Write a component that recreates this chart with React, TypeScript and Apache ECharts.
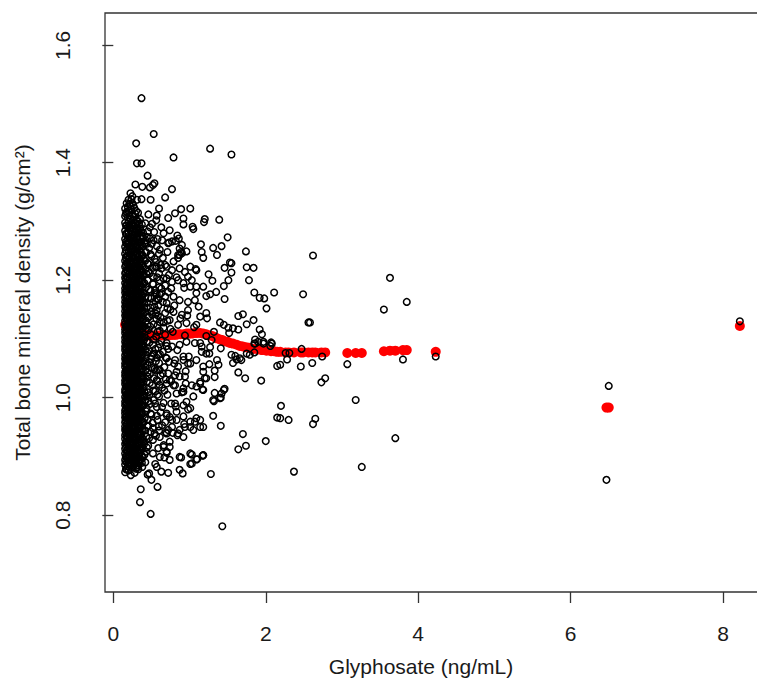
import React, { useEffect, useRef } from "react";
import * as echarts from "echarts";

const xTicks = [0, 2, 4, 6, 8];
const yTicks = [0.8, 1.0, 1.2, 1.4, 1.6];
const xTitle = "Glyphosate (ng/mL)";
const yTitle = "Total bone mineral density (g/cm²)";

// dense core: glyphosate value -> bone mineral density values
const coreColumns: [number, number[]][] = [
  [0.155, [0.873,0.886,0.894,0.905,0.913,0.921,0.93,0.936,0.945,0.951,0.958,0.966,0.973,0.978,0.987,0.993,1.001,1.009,1.014,1.023,1.029,1.037,1.043,1.052,1.058,1.066,1.072,1.081,1.087,1.095,1.102,1.11,1.116,1.125,1.131,1.14,1.147,1.155,1.163,1.17,1.179,1.186,1.195,1.204,1.212,1.223,1.233,1.245,1.257,1.27,1.284,1.298,1.309,1.322]],
  [0.165, [0.878,0.891,0.9,0.916,0.924,0.94,0.947,0.961,0.968,0.981,0.99,0.998,1.01,1.019,1.027,1.039,1.046,1.056,1.064,1.077,1.085,1.092,1.105,1.113,1.122,1.135,1.143,1.152,1.16,1.173,1.182,1.191,1.201,1.214,1.226,1.238,1.251,1.265,1.279,1.293,1.313]],
  [0.175, [0.879,0.898,0.909,0.925,0.934,0.947,0.955,0.969,0.976,0.989,0.997,1.006,1.018,1.026,1.035,1.047,1.055,1.063,1.076,1.084,1.093,1.105,1.113,1.121,1.134,1.142,1.151,1.161,1.174,1.183,1.192,1.206,1.217,1.229,1.241,1.262,1.278,1.293,1.316,1.331]],
  [0.19, [0.883,0.896,0.908,0.922,0.933,0.946,0.957,0.966,0.979,0.987,0.999,1.007,1.02,1.028,1.039,1.045,1.057,1.066,1.074,1.087,1.095,1.104,1.116,1.124,1.133,1.145,1.153,1.164,1.172,1.185,1.194,1.205,1.216,1.227,1.242,1.256,1.271,1.29,1.307,1.325]],
  [0.2, [0.876,0.889,0.903,0.917,0.928,0.941,0.949,0.962,0.971,0.983,0.994,1.003,1.013,1.021,1.032,1.041,1.05,1.061,1.069,1.079,1.09,1.099,1.108,1.119,1.128,1.137,1.146,1.158,1.167,1.178,1.188,1.199,1.21,1.221,1.236,1.25,1.264,1.281,1.3,1.318,1.337]],
  [0.213, [0.885,0.898,0.91,0.921,0.935,0.945,0.956,0.968,0.977,0.989,1.0,1.008,1.017,1.027,1.037,1.046,1.054,1.065,1.073,1.084,1.094,1.104,1.112,1.123,1.132,1.141,1.153,1.162,1.172,1.183,1.193,1.205,1.215,1.228,1.241,1.257,1.271,1.292,1.31,1.33]],
  [0.225, [0.884,0.895,0.912,0.92,0.936,0.944,0.959,0.967,0.98,0.991,0.999,1.011,1.019,1.03,1.038,1.048,1.057,1.068,1.074,1.088,1.096,1.107,1.114,1.127,1.135,1.144,1.156,1.164,1.176,1.185,1.197,1.208,1.219,1.232,1.244,1.259,1.274,1.289,1.305,1.326,1.348]],
  [0.238, [0.888,0.902,0.915,0.925,0.94,0.949,0.962,0.97,0.982,0.993,1.002,1.013,1.022,1.033,1.041,1.052,1.06,1.07,1.079,1.09,1.099,1.109,1.118,1.128,1.137,1.147,1.157,1.166,1.175,1.186,1.197,1.21,1.221,1.233,1.247,1.262,1.277,1.293,1.32,1.338]],
  [0.25, [0.881,0.893,0.907,0.919,0.931,0.939,0.953,0.964,0.974,0.985,0.995,1.007,1.016,1.027,1.036,1.045,1.056,1.064,1.073,1.085,1.094,1.103,1.112,1.123,1.131,1.142,1.152,1.16,1.171,1.181,1.193,1.203,1.215,1.226,1.239,1.253,1.267,1.284,1.296,1.312,1.331]],
  [0.263, [0.884,0.897,0.913,0.923,0.934,0.946,0.958,0.967,0.978,0.989,0.999,1.009,1.02,1.03,1.04,1.05,1.059,1.068,1.079,1.088,1.097,1.107,1.116,1.126,1.135,1.145,1.155,1.165,1.175,1.185,1.196,1.207,1.219,1.231,1.243,1.257,1.271,1.288,1.302,1.327]],
  [0.275, [0.887,0.9,0.911,0.926,0.938,0.95,0.961,0.97,0.982,0.992,1.004,1.012,1.024,1.033,1.043,1.053,1.062,1.071,1.082,1.091,1.1,1.11,1.12,1.13,1.139,1.149,1.159,1.169,1.179,1.19,1.2,1.212,1.224,1.236,1.249,1.262,1.277,1.292,1.308,1.323]],
  [0.288, [0.89,0.903,0.914,0.929,0.94,0.953,0.963,0.975,0.985,0.995,1.005,1.016,1.025,1.035,1.046,1.056,1.064,1.074,1.084,1.094,1.103,1.113,1.123,1.133,1.143,1.152,1.163,1.173,1.183,1.194,1.206,1.217,1.23,1.242,1.255,1.268,1.282,1.297,1.313]],
  [0.3, [0.879,0.892,0.904,0.918,0.929,0.943,0.956,0.965,0.977,0.988,0.997,1.008,1.019,1.028,1.039,1.049,1.059,1.067,1.077,1.087,1.097,1.106,1.117,1.126,1.136,1.146,1.155,1.166,1.176,1.187,1.198,1.209,1.22,1.233,1.246,1.258,1.272,1.287,1.303,1.318]],
  [0.313, [0.882,0.895,0.907,0.92,0.932,0.946,0.957,0.972,0.983,0.994,1.005,1.014,1.025,1.035,1.045,1.055,1.064,1.074,1.084,1.094,1.103,1.114,1.123,1.133,1.142,1.152,1.162,1.172,1.183,1.195,1.206,1.217,1.229,1.243,1.256,1.27,1.285,1.301]],
  [0.325, [0.885,0.897,0.91,0.923,0.935,0.948,0.959,0.968,0.98,0.99,1.001,1.01,1.022,1.031,1.042,1.051,1.06,1.07,1.08,1.089,1.099,1.109,1.119,1.128,1.138,1.148,1.158,1.168,1.178,1.189,1.201,1.213,1.226,1.24,1.255,1.269,1.283,1.3,1.315]],
  [0.338, [0.888,0.901,0.913,0.926,0.938,0.951,0.962,0.974,0.986,0.996,1.007,1.018,1.029,1.04,1.053,1.064,1.075,1.086,1.097,1.108,1.12,1.13,1.141,1.152,1.163,1.174,1.185,1.197,1.209,1.222,1.235,1.25,1.264,1.28,1.296]],
  [0.35, [0.892,0.906,0.915,0.929,0.942,0.954,0.966,0.979,0.991,1.003,1.015,1.025,1.037,1.048,1.058,1.069,1.081,1.092,1.103,1.114,1.125,1.134,1.145,1.157,1.168,1.18,1.191,1.203,1.216,1.229,1.243,1.258,1.273,1.288,1.304]],
  [0.362, [0.895,0.91,0.923,0.937,0.95,0.962,0.975,0.988,1.0,1.012,1.024,1.036,1.047,1.059,1.071,1.083,1.095,1.106,1.118,1.13,1.142,1.154,1.166,1.179,1.191,1.204,1.218,1.232,1.248,1.265,1.282]],
  [0.375, [0.889,0.901,0.916,0.932,0.945,0.958,0.972,0.985,0.998,1.011,1.024,1.036,1.049,1.061,1.074,1.086,1.098,1.111,1.123,1.136,1.149,1.162,1.174,1.187,1.2,1.214,1.228,1.243,1.26,1.276,1.295]],
  [0.388, [0.898,0.914,0.929,0.944,0.958,0.973,0.987,1.002,1.016,1.031,1.045,1.06,1.074,1.089,1.103,1.118,1.133,1.148,1.163,1.178,1.193,1.209,1.225,1.242,1.258,1.274]],
];

const midDense: [number, number][] = [
  [0.405,0.921],[0.432,0.934],[0.458,0.918],[0.487,0.942],[0.515,0.957],[0.541,0.939],[0.572,0.969],[0.598,0.951],
  [0.412,0.965],[0.437,0.982],[0.463,0.994],[0.491,0.973],[0.523,1.012],[0.548,0.99],[0.577,1.005],[0.604,1.022],
  [0.408,1.011],[0.451,1.043],[0.478,1.025],[0.504,1.051],[0.533,1.033],[0.559,1.062],[0.586,1.047],[0.612,1.074],
  [0.419,1.058],[0.446,1.077],[0.472,1.094],[0.499,1.071],[0.527,1.099],[0.553,1.083],[0.581,1.112],[0.607,1.091],
  [0.403,1.098],[0.429,1.118],[0.456,1.136],[0.483,1.121],[0.51,1.141],[0.538,1.155],[0.565,1.134],[0.593,1.167],
  [0.414,1.146],[0.441,1.162],[0.468,1.184],[0.495,1.169],[0.521,1.193],[0.547,1.178],[0.575,1.205],[0.602,1.188],
  [0.407,1.195],[0.435,1.211],[0.462,1.227],[0.489,1.244],[0.518,1.221],[0.544,1.236],[0.571,1.258],[0.599,1.245],
  [0.425,1.268],[0.452,1.283],[0.48,1.271],[0.508,1.296],[0.536,1.282],[0.563,1.302],[0.418,1.233],[0.505,1.262],
  [0.44,1.002],[0.47,1.06],[0.53,1.075],[0.49,1.153],[0.455,1.2],[0.585,1.14],[0.61,1.176],[0.62,1.226],
  [0.64,0.984],[0.67,1.012],[0.69,1.068],[0.66,1.119],[0.71,1.131],[0.68,1.172],[0.73,1.209],[0.66,1.203],[0.71,1.248],[0.74,1.285],
  [0.65,1.041],[0.72,1.083],[0.75,1.15],[0.64,1.268],[0.68,1.226],[0.74,1.03],[0.76,0.99],[0.69,0.941],
];

const midPoints: [number, number][] = [
  [0.41,0.903],[0.44,0.915],[0.39,0.926],[0.47,0.931],[0.42,0.944],[0.52,0.948],[0.4,0.958],[0.45,0.962],[0.5,0.971],[0.43,0.977],
  [0.39,0.986],[0.48,0.989],[0.53,0.996],[0.41,1.003],[0.46,1.009],[0.4,1.018],[0.51,1.021],[0.44,1.027],[0.39,1.034],[0.48,1.04],
  [0.42,1.046],[0.54,1.049],[0.45,1.055],[0.4,1.062],[0.5,1.066],[0.43,1.073],[0.47,1.079],[0.39,1.086],[0.52,1.09],[0.44,1.096],
  [0.41,1.103],[0.49,1.108],[0.46,1.115],[0.4,1.121],[0.53,1.125],[0.43,1.131],[0.47,1.138],[0.39,1.143],[0.5,1.147],[0.44,1.153],
  [0.41,1.16],[0.55,1.164],[0.46,1.17],[0.4,1.177],[0.49,1.182],[0.43,1.188],[0.52,1.194],[0.45,1.2],[0.39,1.207],[0.48,1.212],
  [0.42,1.219],[0.55,1.223],[0.45,1.229],[0.4,1.236],[0.5,1.241],[0.43,1.248],[0.47,1.255],[0.41,1.262],[0.53,1.268],[0.44,1.274],
  [0.39,1.281],[0.48,1.29],[0.42,1.297],[0.46,1.312],
  [0.43,0.908],[0.46,0.952],[0.42,0.995],[0.45,1.036],[0.42,1.082],[0.45,1.125],[0.42,1.171],[0.46,1.215],[0.44,1.262],[0.47,1.004],
  [0.56,0.935],[0.6,0.944],[0.64,0.953],[0.58,0.962],[0.68,0.958],[0.62,0.975],[0.57,0.984],[0.66,0.991],[0.6,1.002],[0.71,1.005],
  [0.55,1.011],[0.64,1.017],[0.58,1.028],[0.69,1.031],[0.62,1.038],[0.56,1.046],[0.67,1.052],[0.6,1.059],[0.73,1.061],[0.57,1.068],
  [0.65,1.078],[0.59,1.085],[0.7,1.088],[0.63,1.097],[0.56,1.104],[0.68,1.107],[0.61,1.114],[0.75,1.117],[0.58,1.123],[0.66,1.128],
  [0.62,1.137],[0.56,1.143],[0.71,1.152],[0.59,1.157],[0.65,1.163],[0.57,1.176],[0.63,1.186],[0.68,1.191],[0.6,1.212],[0.56,1.231],
  [0.65,1.238],[0.61,1.252],[0.58,1.27],[0.63,1.29],[0.57,1.31],[0.6,1.322],
  [0.78,0.94],[0.82,0.985],[0.76,1.028],[0.8,1.058],[0.84,1.081],[0.78,1.112],[0.88,1.135],[0.8,1.157],[0.76,1.186],[0.83,1.205],
  [0.79,1.232],[0.9,1.26],[0.94,1.106],[0.97,1.14],[0.93,1.187],[0.99,1.07],[0.95,1.045],[0.9,1.009],[0.98,0.98],[0.93,0.955],
  [0.72,1.263],[0.77,1.266],[0.87,1.254],[0.9,1.246],[0.85,1.243],[0.96,1.249],[0.57,1.223],[0.63,1.22],[0.7,1.223],[0.77,1.217],
  [0.87,1.22],[0.94,1.214],[1.01,1.223],[1.09,1.217],[0.52,1.206],[0.61,1.2],[0.7,1.203],[0.77,1.197],[0.85,1.2],[0.92,1.195],
  [1.01,1.189],[1.09,1.178],[1.18,1.189],[0.55,1.183],[0.63,1.178],[0.72,1.18],[0.79,1.172],[0.87,1.166],[0.98,1.163],[1.07,1.166],
  [0.57,1.169],[0.7,1.161],[0.57,1.149],[0.68,1.144],[0.79,1.146],[0.9,1.141],[0.98,1.149],[1.14,1.138],[1.22,1.144],[0.61,1.129],
  [0.74,1.132],[0.85,1.124],[0.96,1.127],[1.09,1.124],[0.7,1.093],[0.77,1.087],[0.87,1.09],[0.96,1.095],[1.07,1.093],[1.16,1.087],
  [1.22,1.075],[0.59,1.073],[0.7,1.067],[0.81,1.064],[0.92,1.07],[1.01,1.058],[1.09,1.064],[1.18,1.053],[0.61,1.047],[0.72,1.041],
  [0.83,1.044],[0.94,1.036],[0.57,1.03],[0.7,1.024],[0.81,1.021],[0.92,1.016],[1.03,1.021],[1.14,1.024],[0.7,0.97],[0.77,0.962],
  [0.83,0.976],[0.92,0.968],[1.01,0.959],[1.09,0.965],[1.14,0.95],[1.05,0.945],[0.85,0.939],[0.94,0.95],[0.72,0.945],[0.61,0.933],
  [0.66,0.919],[0.74,0.916],[0.83,0.962],[0.74,0.967],[0.7,0.973],[0.77,0.95],[0.7,0.939],[0.87,0.945],[0.84,0.936],[0.92,0.933],
  [1.01,0.95],[1.07,0.959],[0.98,1.058],[0.92,1.064],[0.85,1.053],[0.81,1.038],[0.87,1.036],[0.95,1.024],[0.79,1.021],[0.92,1.01],
  [0.83,1.007],[0.81,0.99],[1.05,1.002],[0.96,0.993],[1.01,0.982],[0.92,0.987],[1.14,1.027],[1.2,1.033],[1.09,1.019],[1.18,1.013],
  [0.74,0.925],[0.66,0.916],[0.7,0.908],[0.59,0.914],[0.52,0.928],[0.61,0.899],[0.74,0.894],[0.25,0.895],[0.3,0.889],[0.33,0.878],
  [0.38,0.882],[0.42,0.89],[0.28,0.872],[0.55,0.887],[0.52,0.905],[0.57,0.882],[0.63,0.874],[0.72,0.872],[0.87,0.877],[0.91,0.871],
  [0.87,0.899],[1.01,0.905],[1.09,0.895],[1.18,0.902],[1.03,0.888],[0.67,0.898],[0.7,0.906],[1.01,0.887],[1.03,0.903],[1.1,0.895],
  [1.17,0.901],[0.89,0.898],[0.36,0.844],[0.35,0.822],[0.49,0.802],[0.58,0.848],[0.5,0.86],[0.45,0.869],[0.47,0.871],[0.23,0.868],
];

const upperPoints: [number, number][] = [
  [0.37,1.51],[0.53,1.449],[0.3,1.433],[0.31,1.399],[0.37,1.399],[0.79,1.409],[1.27,1.424],[1.55,1.414],[0.45,1.378],[0.29,1.363],
  [0.38,1.359],[0.48,1.358],[0.54,1.365],[0.52,1.362],[0.77,1.355],[0.68,1.341],[0.25,1.343],[0.31,1.337],[0.37,1.338],[0.49,1.337],
  [1.01,1.322],[0.89,1.321],[0.81,1.314],[0.72,1.306],[1.2,1.304],[1.19,1.299],[1.39,1.303],[1.04,1.291],[1.05,1.287],[0.92,1.305],
  [0.92,1.295],[1.5,1.273],[1.74,1.249],[1.31,1.255],[1.42,1.258],[1.36,1.243],[1.15,1.261],[1.16,1.248],[1.18,1.238],[0.84,1.276],
  [0.86,1.271],[0.82,1.267],[0.73,1.264],[0.66,1.28],[0.89,1.248],[0.87,1.243],[0.85,1.238],[1.53,1.23],[1.55,1.229],[1.46,1.221],
  [1.55,1.213],[1.75,1.222],[1.84,1.221],[1.78,1.2],[1.3,1.199],[1.51,1.2],[1.45,1.19],[1.09,1.189],[1.03,1.2],[0.98,1.206],[1.08,1.219],
  [1.22,1.173],[1.27,1.176],[1.46,1.168],[1.25,1.21],[1.35,1.18],[1.12,1.155],[1.06,1.12],[1.23,1.135],[1.32,1.112],
];

const sparsePoints: [number, number][] = [
  [2.11,1.179],[1.85,1.179],[1.92,1.17],[1.98,1.169],[2.01,1.152],[2.49,1.176],[2.62,1.242],[3.63,1.204],[3.85,1.163],[3.55,1.15],
  [1.64,1.139],[1.7,1.142],[1.84,1.132],[1.75,1.125],[1.4,1.128],[1.45,1.124],[1.51,1.119],[1.57,1.118],[1.64,1.116],[1.52,1.11],
  [1.92,1.116],[1.95,1.108],[1.86,1.099],[1.9,1.095],[1.97,1.092],[2.07,1.094],[2.06,1.088],[1.85,1.092],[2.56,1.128],[2.58,1.128],
  [1.22,1.105],[1.29,1.098],[1.14,1.093],[1.16,1.078],[1.26,1.075],[1.27,1.086],[1.41,1.084],[1.79,1.073],[1.85,1.077],[1.55,1.073],
  [1.62,1.065],[1.68,1.064],[1.57,1.059],[2.26,1.076],[2.31,1.076],[2.28,1.065],[2.47,1.083],[2.46,1.053],[2.15,1.054],[2.19,1.056],
  [2.61,1.059],[2.74,1.07],[3.07,1.057],[3.8,1.065],[4.23,1.07],[1.36,1.064],[1.38,1.056],[1.33,1.046],[1.26,1.057],[1.18,1.044],
  [1.64,1.043],[1.73,1.033],[1.94,1.029],[1.22,1.033],[1.17,1.014],[1.33,1.035],[1.46,1.015],[1.42,1.007],[1.41,1.0],[1.32,0.994],
  [1.31,0.996],[1.4,0.999],[1.45,1.013],[1.33,1.008],[1.6,1.071],[1.66,1.067],[1.75,1.075],[1.86,1.092],[1.97,1.095],[2.08,1.092],
  [2.78,1.033],[2.73,1.026],[3.18,0.996],[2.2,0.986],[2.15,0.966],[2.3,0.962],[2.19,0.965],[2.65,0.964],[2.62,0.955],[1.31,0.969],
  [1.18,0.95],[1.14,0.962],[1.41,0.952],[1.7,0.938],[1.74,0.918],[1.64,0.912],[2.0,0.926],[1.18,0.902],[1.28,0.87],[2.37,0.874],
  [3.7,0.931],[3.26,0.882],[6.5,1.02],[6.47,0.86],[8.22,1.13],[1.43,0.781],
];

const fittedPoints: [number, number][] = [
  [0.155,1.124],[0.175,1.121],[0.2,1.118],[0.225,1.116],[0.25,1.114],[0.275,1.112],[0.3,1.111],[0.325,1.11],[0.35,1.109],[0.375,1.108],
  [0.4,1.107],[0.43,1.107],[0.46,1.106],[0.49,1.106],[0.52,1.106],[0.55,1.106],[0.58,1.106],[0.61,1.106],[0.64,1.106],[0.67,1.106],
  [0.7,1.106],[0.73,1.106],[0.76,1.107],[0.79,1.107],[0.82,1.107],[0.85,1.108],[0.88,1.108],[0.92,1.108],[0.96,1.109],[0.99,1.109],
  [1.03,1.109],[1.07,1.11],[1.1,1.11],[1.14,1.11],[1.18,1.109],[1.22,1.108],[1.26,1.106],[1.3,1.105],[1.33,1.103],[1.36,1.101],
  [1.4,1.099],[1.43,1.098],[1.46,1.096],[1.5,1.095],[1.53,1.093],[1.57,1.092],[1.62,1.09],[1.66,1.088],[1.7,1.087],[1.74,1.086],
  [1.78,1.085],[1.84,1.083],[1.9,1.082],[1.95,1.081],[2.01,1.08],[2.07,1.079],[2.11,1.079],[2.15,1.078],[2.19,1.078],[2.26,1.077],
  [2.3,1.077],[2.37,1.077],[2.46,1.077],[2.49,1.077],[2.56,1.077],[2.61,1.077],[2.65,1.077],[2.73,1.077],[2.78,1.077],[3.07,1.076],
  [3.18,1.076],[3.26,1.076],[3.55,1.079],[3.63,1.08],[3.7,1.08],[3.8,1.081],[3.85,1.081],[4.23,1.078],[6.47,0.983],[6.5,0.983],[8.22,1.122],
];

const FONT = "'Liberation Sans', Arial, Helvetica, sans-serif";

export default function App() {
  const ref = useRef<HTMLDivElement>(null);
  useEffect(() => {
    if (!ref.current) return;
    const chart = echarts.init(ref.current, null, { renderer: "svg" });
    const observed: [number, number][] = [
      ...coreColumns.flatMap(([x, ys]) => ys.map((y) => [x, y] as [number, number])),
      ...midDense,
      ...midPoints,
      ...upperPoints,
      ...sparsePoints,
    ];
    chart.setOption({
      animation: false,
      backgroundColor: "#ffffff",
      grid: {
        left: 105,
        top: 13,
        right: 7,
        bottom: 91,
        show: true,
        borderColor: "#333",
        borderWidth: 1.3,
        backgroundColor: "transparent",
      },
      xAxis: {
        type: "value",
        min: -0.109,
        max: 8.55,
        axisLine: { show: false },
        splitLine: { show: false },
        axisTick: {
          show: true,
          length: 11,
          customValues: xTicks,
          lineStyle: { color: "#333", width: 1.3 },
        },
        axisLabel: {
          customValues: xTicks,
          margin: 31,
          fontFamily: FONT,
          fontSize: 21,
          color: "#1a1a1a",
        },
        name: xTitle,
        nameLocation: "middle",
        nameGap: 64,
        nameTextStyle: {
          fontFamily: FONT,
          fontSize: 21,
          color: "#1a1a1a",
          padding: [0, 28, 0, 0],
        },
      },
      yAxis: {
        type: "value",
        min: 0.669,
        max: 1.655,
        axisLine: { show: false },
        splitLine: { show: false },
        axisTick: {
          show: true,
          length: 11,
          customValues: yTicks,
          lineStyle: { color: "#333", width: 1.3 },
        },
        axisLabel: {
          customValues: yTicks,
          rotate: 90,
          margin: 32,
          fontFamily: FONT,
          fontSize: 21,
          color: "#1a1a1a",
          formatter: (v: number) => v.toFixed(1),
        },
        name: yTitle,
        nameLocation: "middle",
        nameRotate: 90,
        nameGap: 72,
        nameTextStyle: {
          fontFamily: FONT,
          fontSize: 21,
          color: "#1a1a1a",
        },
      },
      series: [
        {
          type: "scatter",
          name: "fitted",
          data: fittedPoints,
          symbol: "circle",
          symbolSize: 10,
          itemStyle: { color: "#ff0000", opacity: 1 },
          silent: true,
          z: 1,
        },
        {
          type: "scatter",
          name: "observed",
          data: observed,
          symbol: "circle",
          symbolSize: 6.6,
          itemStyle: { color: "rgba(0,0,0,0)", borderColor: "#000", borderWidth: 1.5, opacity: 1 },
          silent: true,
          z: 2,
        },
      ],
    });
    return () => chart.dispose();
  }, []);
  return (
    <div
      style={{
        position: "fixed",
        left: 0,
        top: 0,
        width: 757,
        height: 683,
        overflow: "hidden",
        background: "#fff",
      }}
    >
      <div ref={ref} style={{ width: 772, height: 683 }} />
    </div>
  );
}
